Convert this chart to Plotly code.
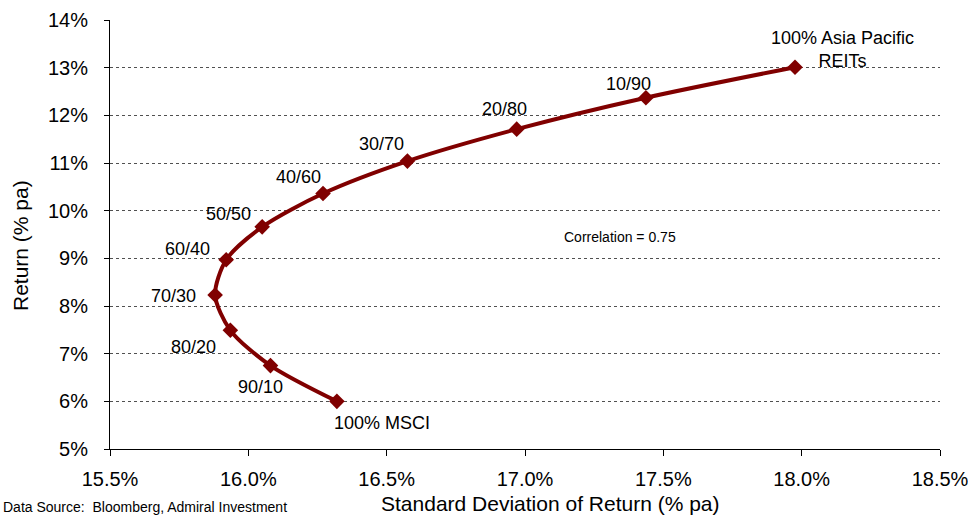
import plotly.graph_objects as go

# Efficient frontier: MSCI / Asia Pacific REITs portfolio mixes
mix_labels = ["100% MSCI", "90/10", "80/20", "70/30", "60/40", "50/50",
              "40/60", "30/70", "20/80", "10/90", "100% Asia Pacific<br>REITs"]
std_dev = [16.32, 16.08, 15.935, 15.88, 15.92, 16.05, 16.27, 16.575, 16.97, 17.437, 17.976]
returns = [6.00, 6.75, 7.49, 8.23, 8.97, 9.66, 10.36, 11.04, 11.71, 12.37, 13.01]

x_ticks = [15.5, 16.0, 16.5, 17.0, 17.5, 18.0, 18.5]
x_tick_text = ["15.5%", "16.0%", "16.5%", "17.0%", "17.5%", "18.0%", "18.5%"]
y_ticks = [5, 6, 7, 8, 9, 10, 11, 12, 13, 14]
y_tick_text = ["5%", "6%", "7%", "8%", "9%", "10%", "11%", "12%", "13%", "14%"]

# pixel offsets of each label relative to its point
label_offsets = [(45, -22), (-10, -21), (-37, -17), (-42, -1), (-39, 11), (-34, 13),
                 (-25, 17), (-26, 17), (-12, 20), (-17, 14), (47, 18)]

LINE = "#800000"
FONT = "Liberation Sans, Arial, sans-serif"

fig = go.Figure()
fig.add_trace(go.Scatter(
    x=std_dev, y=returns, mode="lines+markers",
    line=dict(color=LINE, width=4, shape="spline", smoothing=0.8),
    marker=dict(symbol="diamond", size=12, color=LINE),
    showlegend=False, hoverinfo="skip",
))

annotations = []
for lab, xv, yv, (dx, dy) in zip(mix_labels, std_dev, returns, label_offsets):
    annotations.append(dict(
        x=xv, y=yv, xref="x", yref="y", text=lab, showarrow=False,
        xanchor="center", yanchor="middle", xshift=dx, yshift=dy,
        font=dict(family=FONT, size=18, color="#000000"),
    ))

annotations += [
    dict(x=620, y=237, xref="paper", yref="paper", text="Correlation = 0.75",
         showarrow=False, xanchor="center", yanchor="middle",
         font=dict(family=FONT, size=14, color="#000000")),
    dict(text="Standard Deviation of Return (% pa)", xref="paper", yref="paper",
         x=550, y=503, showarrow=False, xanchor="center", yanchor="middle",
         font=dict(family=FONT, size=21, color="#000000")),
    dict(text="Return (% pa)", xref="paper", yref="paper", x=21, y=246,
         textangle=-90, showarrow=False, xanchor="center", yanchor="middle",
         font=dict(family=FONT, size=21, color="#000000")),
    dict(text="Data Source:  Bloomberg, Admiral Investment", xref="paper", yref="paper",
         x=1, y=507, showarrow=False, xanchor="left", yanchor="middle",
         font=dict(family=FONT, size=14, color="#000000")),
]

# convert pixel-placed page annotations to paper coordinates
W, H = 968, 515
ML, MR, MT, MB = 110, 28, 20, 66
pw, ph = W - ML - MR, H - MT - MB
for a in annotations:
    if a["xref"] == "paper":
        a["x"] = (a["x"] - ML) / pw
        a["y"] = (H - MB - a["y"]) / ph

fig.update_layout(
    width=W, height=H,
    margin=dict(l=ML, r=MR, t=MT, b=MB, pad=0),
    paper_bgcolor="white", plot_bgcolor="white",
    font=dict(family=FONT, size=20, color="#000000"),
    annotations=annotations,
    xaxis=dict(
        range=[15.5, 18.5], tickvals=x_ticks, ticktext=x_tick_text,
        showgrid=False, zeroline=False,
        showline=True, linecolor="#000000", linewidth=1,
        ticks="outside", ticklen=6, tickcolor="#000000",
        ticklabelstandoff=6, tickfont=dict(size=20),
        ticklabeloverflow="allow", automargin=False,
    ),
    yaxis=dict(
        range=[5, 14], tickvals=y_ticks, ticktext=y_tick_text,
        showgrid=True, gridcolor="#505050", gridwidth=1, griddash="dot",
        zeroline=False,
        showline=True, linecolor="#000000", linewidth=1,
        ticks="outside", ticklen=5, tickcolor="#000000",
        ticklabelstandoff=12, tickfont=dict(size=20),
        automargin=False,
    ),
)

fig.write_html("out.html")
